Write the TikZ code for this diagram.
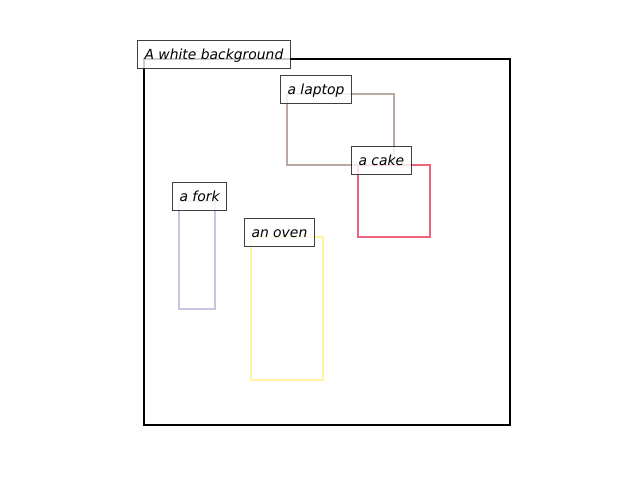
\documentclass[tikz,border=0pt]{standalone}
\usepackage{fontspec}
\setmainfont{DejaVu Sans}
\usepackage{xcolor}
\usetikzlibrary{positioning}

\definecolor{laptopc}{RGB}{184,170,162}
\definecolor{cakec}{RGB}{238,100,124}
\definecolor{forkc}{RGB}{200,196,226}
\definecolor{ovenc}{RGB}{255,243,160}

\begin{document}
\begin{tikzpicture}[x=0.72pt,y=-0.72pt,line join=miter,
    box/.style={line width=2pt},
    tag/.style={draw=black,draw opacity=0.75,fill=white,fill opacity=0.8,text opacity=1,
        line width=0.75pt,anchor=base west,xshift=-5pt,inner xsep=5pt,inner ysep=5.2pt,
        text height=8pt,text depth=1.8pt,font=\itshape\fontsize{10}{12}\selectfont}]
      \useasboundingbox (0,0) rectangle (640,480);
      \coordinate (bg) at (144,59);
      \coordinate (laptop) at (287,94);
      \coordinate (cake) at (358,165);
      \coordinate (fork) at (179,201);
      \coordinate (oven) at (251,237);

      \draw[line width=1.5pt,black] (bg) rectangle (510,425);
      \draw[box,laptopc] (laptop) rectangle (394,165);
      \draw[box,cakec] (cake) rectangle (430,237);
      \draw[box,forkc] (fork) rectangle (215,309);
      \draw[box,ovenc] (oven) rectangle (323,380);

      \node[tag] (bgtag) at (bg) {A white background};
      \node[tag] (laptoptag) at (laptop) {a laptop};
      \node[tag] (caketag) at (cake) {a cake};
      \node[tag] (forktag) at (fork) {a fork};
      \node[tag] (oventag) at (oven) {an oven};
    \end{tikzpicture}
\end{document}
